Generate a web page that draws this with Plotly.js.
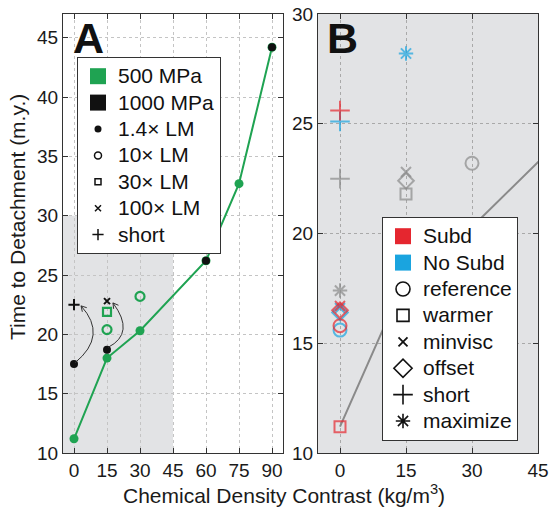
<!DOCTYPE html>
<html>
<head>
<meta charset="utf-8">
<script src="https://cdn.plot.ly/plotly-3.0.1.min.js"></script>
<style>html,body{margin:0;padding:0;background:#fff;}#chart{width:551px;height:516px;}</style>
</head>
<body>
<div id="chart"></div>
<script>
// ---------- Panel A data ----------
const contrastA = [0, 15, 30, 60, 75, 90];
const time500 = [11.2, 18.0, 20.3, 26.2, 32.7, 44.2];
const contrast1000 = [0, 15, 60, 90];
const time1000 = [17.5, 18.7, 26.2, 44.2];
const shortX = [0];
const shortY = [22.5];
const lm100X = [15];
const lm100Y = [22.8];
const lm30X = [15];
const lm30Y = [21.9];
const lm10X = [15, 30];
const lm10Y = [20.4, 23.2];
const legendA = ['500 MPa', '1000 MPa', '1.4× LM', '10× LM', '30× LM', '100× LM', 'short'];

// ---------- Panel B data ----------
const grayCase = ['reference', 'warmer', 'minvisc', 'offset', 'short', 'maximize'];
const grayX = [30, 15, 15, 15, 0, 0];
const grayY = [23.2, 21.8, 22.8, 22.4, 22.5, 17.4];
const subdCase = ['warmer', 'reference', 'offset', 'minvisc', 'short'];
const subdX = [0, 0, 0, 0, 0];
const subdY = [11.2, 15.8, 16.5, 16.7, 25.6];
const noSubdCase = ['reference', 'offset', 'minvisc', 'short', 'maximize'];
const noSubdX = [0, 0, 0, 0, 15];
const noSubdY = [15.6, 16.4, 16.6, 25.1, 28.2];
const legendB = ['Subd', 'No Subd', 'reference', 'warmer', 'minvisc', 'offset', 'short', 'maximize'];

const ticksA_x = [0, 15, 30, 45, 60, 75, 90];
const ticksA_y = [10, 15, 20, 25, 30, 35, 40, 45];
const ticksB_x = [0, 15, 30, 45];
const ticksB_y = [10, 15, 20, 25, 30];

// curved arrows in panel A (start, control, end) from 1000 MPa runs to their variants
const arrowsA = [
  {from: [0.45, 17.6], ctrl: [15.5, 19.9], to: [3.2, 22.4]},
  {from: [15.5, 18.9], ctrl: [28, 20.1], to: [17.7, 22.65]}
];

// ---------- styles ----------
const FONT = 'Liberation Sans, Arial, Helvetica, sans-serif';
const GREEN = '#1fa352';
const RED = '#e5262f';
const BLUE = '#1aa4df';
const GRAY = '#8a8a8a';
const BG = '#e2e3e5';
const symbolOf = {reference: 'circle-open', warmer: 'square-open', minvisc: 'x-thin-open',
  offset: 'diamond-open', short: 'cross-thin-open', maximize: 'asterisk-open'};
const sizeOf = {reference: 13, warmer: 11, minvisc: 10, offset: 12, short: 14, maximize: 12};

function big(t) { return '<span style="font-size:21px">' + t + '</span>'; }

const W = 551, H = 516;
const domAx = [63 / W, 283 / W], rangeAx = [-5, 95];
const yDom = [(H - 453) / H, (H - 14) / H], rangeAy = [10, 47];
const pxPerX = (domAx[1] - domAx[0]) * W / (rangeAx[1] - rangeAx[0]);
const pxPerY = (yDom[1] - yDom[0]) * H / (rangeAy[1] - rangeAy[0]);

const traces = [];
// Panel A
traces.push({x: contrastA, y: time500, xaxis: 'x', yaxis: 'y', mode: 'lines+markers', showlegend: false,
  line: {color: GREEN, width: 2}, marker: {color: GREEN, size: 9}});
traces.push({x: contrast1000, y: time1000, xaxis: 'x', yaxis: 'y', mode: 'markers', showlegend: false,
  marker: {color: '#111', size: 8}});
traces.push({x: lm10X, y: lm10Y, xaxis: 'x', yaxis: 'y', mode: 'markers', showlegend: false,
  marker: {symbol: 'circle-open', color: GREEN, size: 9, line: {width: 2.2}}});
traces.push({x: lm30X, y: lm30Y, xaxis: 'x', yaxis: 'y', mode: 'markers', showlegend: false,
  marker: {symbol: 'square-open', color: GREEN, size: 8, line: {width: 2.2}}});
traces.push({x: lm100X, y: lm100Y, xaxis: 'x', yaxis: 'y', mode: 'markers', showlegend: false,
  marker: {symbol: 'x-thin-open', color: '#111', size: 6, line: {width: 2}}});
traces.push({x: shortX, y: shortY, xaxis: 'x', yaxis: 'y', mode: 'markers', showlegend: false,
  marker: {symbol: 'cross-thin-open', color: '#111', size: 8, line: {width: 2}}});

// Legend A entries
const legAStyle = [
  {symbol: 'square', color: GREEN, size: 16},
  {symbol: 'square', color: '#111', size: 16},
  {symbol: 'circle', color: '#111', size: 7},
  {symbol: 'circle-open', color: '#111', size: 7, line: {width: 1.5}},
  {symbol: 'square-open', color: '#111', size: 6, line: {width: 1.5}},
  {symbol: 'x-thin-open', color: '#111', size: 6, line: {width: 1.5}},
  {symbol: 'cross-thin-open', color: '#111', size: 8, line: {width: 1.5}}
];
legendA.forEach((name, i) => traces.push({x: [null], y: [null], xaxis: 'x', yaxis: 'y', mode: 'markers',
  name: big(name), legend: 'legend', marker: legAStyle[i]}));

// Panel B
traces.push({x: contrastA, y: time500, xaxis: 'x2', yaxis: 'y2', mode: 'lines', showlegend: false,
  line: {color: GRAY, width: 2}});
function groupTrace(xs, ys, cases, color) {
  return {x: xs, y: ys, xaxis: 'x2', yaxis: 'y2', mode: 'markers', showlegend: false,
    marker: {symbol: cases.map(c => symbolOf[c]), size: cases.map(c => sizeOf[c]), color: color, line: {width: 2}}};
}
traces.push(groupTrace(grayX, grayY, grayCase, GRAY));
traces.push(groupTrace(noSubdX, noSubdY, noSubdCase, BLUE));
traces.push(groupTrace(subdX, subdY, subdCase, RED));

// Legend B entries
const legBStyle = [
  {symbol: 'square', color: RED, size: 16},
  {symbol: 'square', color: BLUE, size: 16},
  {symbol: 'circle-open', color: '#111', size: 14, line: {width: 1.6}},
  {symbol: 'square-open', color: '#111', size: 12, line: {width: 1.6}},
  {symbol: 'x-thin-open', color: '#111', size: 9, line: {width: 1.8}},
  {symbol: 'diamond-open', color: '#111', size: 14, line: {width: 1.6}},
  {symbol: 'cross-thin-open', color: '#111', size: 14, line: {width: 1.6}},
  {symbol: 'asterisk-open', color: '#111', size: 12, line: {width: 1.6}}
];
legendB.forEach((name, i) => traces.push({x: [null], y: [null], xaxis: 'x2', yaxis: 'y2', mode: 'markers',
  name: big(name), legend: 'legend2', marker: legBStyle[i]}));

function axisBase(extra) {
  return Object.assign({
    showline: true, mirror: 'ticks', linecolor: '#333', linewidth: 1,
    ticks: 'inside', ticklen: 5, tickcolor: '#333', tickwidth: 1,
    showgrid: true, griddash: 'dot', gridwidth: 1, zeroline: false,
    tickmode: 'array', tickfont: {family: FONT, size: 19, color: '#1a1a1a'},
    fixedrange: true
  }, extra);
}

// arrow shapes: quadratic curve + open arrowhead computed in pixel space
const arrowShapes = [];
arrowsA.forEach(a => {
  arrowShapes.push({type: 'path', xref: 'x', yref: 'y',
    path: `M ${a.from[0]},${a.from[1]} Q ${a.ctrl[0]},${a.ctrl[1]} ${a.to[0]},${a.to[1]}`,
    line: {color: '#333', width: 1}, layer: 'above'});
  // direction at the tip (pixel space, y up)
  let dx = (a.to[0] - a.ctrl[0]) * pxPerX, dy = (a.to[1] - a.ctrl[1]) * pxPerY;
  const len = Math.hypot(dx, dy); dx /= len; dy /= len;
  const L = 6, ang = Math.PI / 6;
  const wing = s => {
    const c = Math.cos(s * ang), sn = Math.sin(s * ang);
    const bx = -(dx * c - dy * sn), by = -(dx * sn + dy * c);
    return [a.to[0] + bx * L / pxPerX, a.to[1] + by * L / pxPerY];
  };
  const w1 = wing(1), w2 = wing(-1);
  arrowShapes.push({type: 'path', xref: 'x', yref: 'y',
    path: `M ${w1[0]},${w1[1]} L ${a.to[0]},${a.to[1]} L ${w2[0]},${w2[1]}`,
    line: {color: '#333', width: 1}, layer: 'above'});
});

const layout = {
  width: W, height: H,
  margin: {l: 0, r: 0, t: 0, b: 0},
  paper_bgcolor: '#fff', plot_bgcolor: 'rgba(0,0,0,0)',
  font: {family: FONT, color: '#1a1a1a'},
  xaxis: axisBase({domain: domAx, range: rangeAx, tickvals: ticksA_x, anchor: 'y', gridcolor: '#c4c4c4'}),
  yaxis: axisBase({domain: yDom, range: rangeAy, tickvals: ticksA_y, anchor: 'x', gridcolor: '#c4c4c4'}),
  xaxis2: axisBase({domain: [318 / W, 538 / W], range: [-5, 45], tickvals: ticksB_x, anchor: 'y2', gridcolor: '#a9a9a9'}),
  yaxis2: axisBase({domain: yDom, range: [10, 30], tickvals: ticksB_y, anchor: 'x2', gridcolor: '#a9a9a9'}),
  legend: {x: 77 / W, y: 1 - 57 / H, xanchor: 'left', yanchor: 'top', bgcolor: '#fff',
    bordercolor: '#333', borderwidth: 1, font: {family: FONT, size: 18, color: '#111'}, tracegroupgap: 0},
  legend2: {x: 382 / W, y: 1 - 217 / H, xanchor: 'left', yanchor: 'top', bgcolor: '#fff',
    bordercolor: '#333', borderwidth: 1, font: {family: FONT, size: 18, color: '#111'}, tracegroupgap: 0},
  shapes: [
    {type: 'rect', xref: 'x', yref: 'y', x0: -5, x1: 45, y0: 10, y1: 30, fillcolor: BG, line: {width: 0}, layer: 'below'},
    {type: 'rect', xref: 'x2 domain', yref: 'y2 domain', x0: 0, x1: 1, y0: 0, y1: 1, fillcolor: BG, line: {width: 0}, layer: 'below'}
  ].concat(arrowShapes),
  annotations: [
    {xref: 'paper', yref: 'paper', x: 71 / W, y: 1 - 37.5 / H, xanchor: 'left', yanchor: 'middle', showarrow: false,
      text: '<b>A</b>', font: {family: FONT, size: 43, color: '#111'}},
    {xref: 'paper', yref: 'paper', x: 325 / W, y: 1 - 37.5 / H, xanchor: 'left', yanchor: 'middle', showarrow: false,
      text: '<b>B</b>', font: {family: FONT, size: 43, color: '#111'}},
    {xref: 'paper', yref: 'paper', x: 17 / W, y: 1 - 217 / H, xanchor: 'center', yanchor: 'middle', showarrow: false,
      textangle: -90, text: 'Time to Detachment (m.y.)', font: {family: FONT, size: 21, color: '#1a1a1a'}},
    {xref: 'paper', yref: 'paper', x: 284 / W, y: 1 - 494 / H, xanchor: 'center', yanchor: 'middle', showarrow: false,
      text: 'Chemical Density Contrast (kg/m<sup>3</sup>)', font: {family: FONT, size: 21, color: '#1a1a1a'}}
  ]
};

Plotly.newPlot('chart', traces, layout, {staticPlot: true, displayModeBar: false});
</script>
</body>
</html>
